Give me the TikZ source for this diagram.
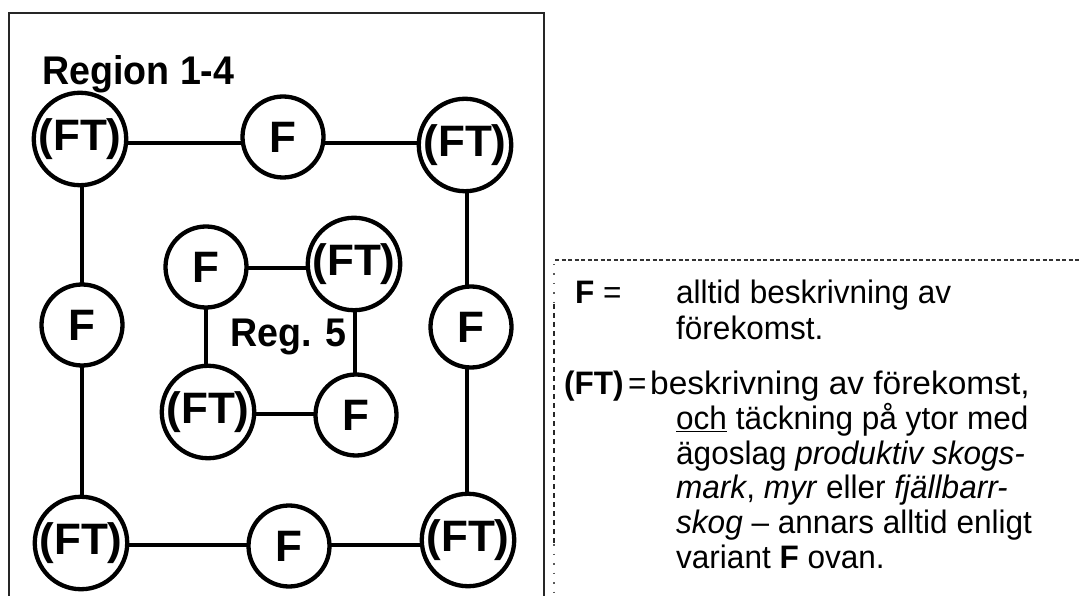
\documentclass[tikz,border=0pt]{standalone}
\usepackage{fontspec}
\usepackage{graphicx}
\setmainfont{Liberation Sans}
\usetikzlibrary{backgrounds}
\newcommand{\lgline}[1]{\scalebox{0.97}[1]{#1}}
\newcommand{\lbline}[1]{\scalebox{0.94}[1]{#1}}
\begin{document}
\begin{tikzpicture}[x=1pt,y=-1pt,
  knot/.style={circle,draw=black,fill=white,line width=4.3pt,minimum size=81pt,inner sep=0pt,
    font=\fontsize{44}{44}\selectfont\bfseries},
  link/.style={line width=4pt,black},
  lbl/.style={anchor=base west,inner sep=0pt,font=\fontsize{40}{40}\selectfont\bfseries},
  leg/.style={anchor=base west,inner sep=0pt,font=\fontsize{32.5}{32.5}\selectfont}]
\useasboundingbox (0,0) rectangle (1080,596);
% outer frame (open at the bottom)
\draw[line width=2pt,black!85] (9,600) -- (9,13) -- (544,13) -- (544,600);
% legend frame
\draw[line width=1.2pt,black!80,dash pattern=on 4pt off 2.5pt] (555,260) -- (1082,260);
\draw[line width=1.4pt,black!65,dash pattern=on 1.5pt off 8pt] (554,264) -- (554,304);
\draw[line width=1.4pt,black!85,dash pattern=on 5pt off 4pt] (554,304) -- (554,544);
\draw[line width=1.4pt,black!65,dash pattern=on 1.5pt off 8pt] (554,544) -- (554,600);
% labels
\node[lbl] (r14) at (42,85) {\lbline{Region 1-4}};
\node[lbl] (r5) at (230,347) {\lbline{Reg. 5}};
% outer ring
\node[knot] (otl) at (80,139) {(FT)};
\node[knot] (ot)  at (283,137) {F};
\node[knot] (otr) at (465,145) {(FT)};
\node[knot] (ol)  at (82,325) {F};
\node[knot] (or)  at (471,327) {F};
\node[knot] (obl) at (81,543) {(FT)};
\node[knot] (ob)  at (289,546) {F};
\node[knot] (obr) at (468,540) {(FT)};
% inner ring
\node[knot] (itl) at (206,267) {F};
\node[knot] (itr) at (354,264) {(FT)};
\node[knot] (ibl) at (208,412) {(FT)};
\node[knot] (ibr) at (356,415) {F};
% guide coordinates for the straight runs
\coordinate (ty) at (0,143);
\coordinate (by) at (0,545);
\coordinate (lx) at (82,0);
\coordinate (rx) at (467,0);
\coordinate (ity) at (0,268);
\coordinate (iby) at (0,414);
\coordinate (ilx) at (206,0);
\coordinate (irx) at (355,0);
% white page and links, behind the white-filled nodes
\begin{scope}[on background layer]
\fill[white] (0,0) rectangle (1080,596);
\draw[link] (otl.center |- ty) -- (ot.center |- ty);
\draw[link] (ot.center |- ty) -- (otr.center |- ty);
\draw[link] (lx |- otl.center) -- (lx |- ol.center);
\draw[link] (lx |- ol.center) -- (lx |- obl.center);
\draw[link] (obl.center |- by) -- (ob.center |- by);
\draw[link] (ob.center |- by) -- (obr.center |- by);
\draw[link] (rx |- otr.center) -- (rx |- or.center);
\draw[link] (rx |- or.center) -- (rx |- obr.center);
\draw[link] (itl.center |- ity) -- (itr.center |- ity);
\draw[link] (ibl.center |- iby) -- (ibr.center |- iby);
\draw[link] (ilx |- itl.center) -- (ilx |- ibl.center);
\draw[link] (irx |- itr.center) -- (irx |- ibr.center);
\end{scope}
% legend
\node[leg] (kf) at (575,304) {\lgline{\textbf{F}}};
\node[leg] (kfeq) at (603,304) {\lgline{=}};
\node[leg] (d1) at (676,304) {\lgline{alltid beskrivning av}};
\node[leg] (d2) at (676,340) {\lgline{förekomst.}};
\node[leg] (kft) at (564,394) {\lgline{\textbf{(FT)}}};
\node[leg] (kfteq) at (628,394) {\lgline{=}};
\node[leg] (d3) at (650,394) {\scalebox{1.03}[1]{beskrivning av förekomst,}};
\node[leg] (d4) at (676,429) {\lgline{\underline{och} täckning på ytor med}};
\node[leg] (d5) at (676,464) {\lgline{ägoslag \textit{produktiv skogs-}}};
\node[leg] (d6) at (676,498) {\lgline{\textit{mark}, \textit{myr} eller \textit{fjällbarr-}}};
\node[leg] (d7) at (676,533) {\lgline{\textit{skog} – annars alltid enligt}};
\node[leg] (d8) at (676,568) {\lgline{variant \textbf{F} ovan.}};
\end{tikzpicture}
\end{document}
